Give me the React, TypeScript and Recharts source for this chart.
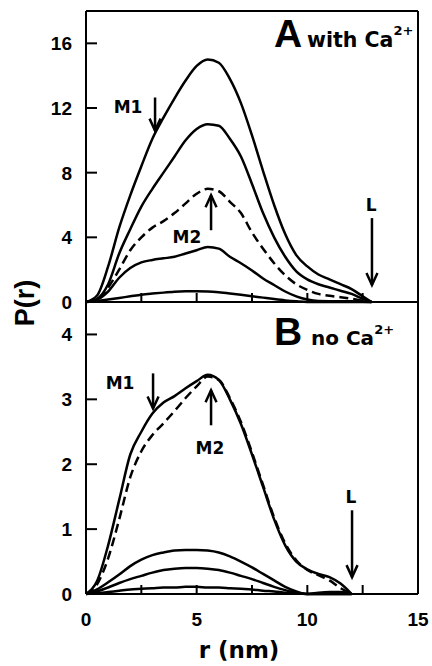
import { LineChart, Line, XAxis, YAxis, ReferenceLine, ReferenceDot } from 'recharts'

// ─── fonts ──────────────────────────────────────────────────────────────────
const SANS = '"Liberation Sans", Arial, sans-serif'
const WIDE = '"DejaVu Sans", Verdana, sans-serif'

// ─── panel A: with Ca2+ ─────────────────────────────────────────────────────
const rWithCa = [0, 0.5, 1, 1.5, 2, 2.5, 3, 3.5, 4, 4.5, 5, 5.5, 6, 6.5, 7, 7.5, 8, 8.5, 9, 9.5, 10, 10.5, 11, 11.5, 12, 12.5, 12.9]
const pA1 = [0, 0.4, 2.2, 4.6, 6.6, 8.4, 10.1, 11.4, 12.6, 13.7, 14.6, 15.0, 14.8, 13.8, 12.3, 10.3, 8.1, 6.0, 4.2, 2.9, 2.2, 1.7, 1.4, 1.1, 0.8, 0.35, 0]
const pA2 = [0, 0.2, 1.1, 3.0, 4.5, 5.9, 7.0, 8.0, 9.0, 10.0, 10.7, 11.0, 10.9, 10.1, 9.0, 7.3, 5.5, 4.0, 2.8, 1.9, 1.4, 1.1, 0.9, 0.7, 0.5, 0.2, 0]
const pA3 = [0, 0.15, 0.9, 2.0, 3.2, 4.0, 4.6, 5.0, 5.5, 6.1, 6.7, 7.0, 6.85, 6.2, 5.5, 4.3, 3.3, 2.4, 1.65, 1.1, 0.75, 0.5, 0.38, 0.3, 0.2, 0.08, 0]
const pA4 = [0, 0.15, 0.65, 1.5, 2.1, 2.45, 2.6, 2.7, 2.8, 3.0, 3.2, 3.4, 3.3, 2.8, 2.4, 1.95, 1.45, 1.05, 0.65, 0.35, 0.15, 0.06, 0.05, 0.05, 0.04, 0.02, 0]
const pA5 = [0, 0.06, 0.15, 0.25, 0.35, 0.45, 0.52, 0.58, 0.63, 0.66, 0.67, 0.65, 0.6, 0.53, 0.45, 0.36, 0.27, 0.18, 0.1, 0.04, 0, 0, 0, 0, 0, 0, 0]

// ─── panel B: no Ca2+ ───────────────────────────────────────────────────────
const rNoCa = [0, 0.5, 1, 1.5, 2, 2.5, 3, 3.5, 4, 4.5, 5, 5.5, 6, 6.5, 7, 7.5, 8, 8.5, 9, 9.5, 10, 10.5, 11, 11.5, 12]
const pB1 = [0, 0.2, 0.75, 1.45, 2.15, 2.5, 2.78, 2.95, 3.05, 3.17, 3.28, 3.38, 3.3, 3.0, 2.62, 2.15, 1.65, 1.15, 0.75, 0.5, 0.38, 0.31, 0.26, 0.16, 0]
const pB2 = [0, 0.15, 0.55, 1.15, 1.8, 2.2, 2.45, 2.63, 2.82, 3.02, 3.2, 3.35, 3.3, 3.02, 2.65, 2.18, 1.68, 1.18, 0.78, 0.52, 0.37, 0.29, 0.21, 0.09, 0]
const pB3 = [0, 0.07, 0.18, 0.3, 0.43, 0.53, 0.6, 0.64, 0.67, 0.68, 0.68, 0.67, 0.64, 0.58, 0.5, 0.41, 0.31, 0.21, 0.11, 0.04, 0, 0, 0, 0, 0]
const pB4 = [0, 0.04, 0.1, 0.17, 0.23, 0.28, 0.33, 0.37, 0.39, 0.4, 0.4, 0.39, 0.37, 0.33, 0.28, 0.23, 0.17, 0.11, 0.06, 0.02, 0, 0, 0, 0, 0]
const pB5 = [0, 0.01, 0.03, 0.05, 0.07, 0.08, 0.09, 0.1, 0.1, 0.11, 0.11, 0.1, 0.1, 0.09, 0.08, 0.07, 0.05, 0.04, 0.02, 0.01, 0, 0.02, 0.03, 0.03, 0]

// ─── axes ───────────────────────────────────────────────────────────────────
const xTicks = [0, 2.5, 5, 7.5, 10, 12.5, 15]
const yTicksA = [0, 4, 8, 12, 16]
const yTicksB = [0, 1, 2, 3, 4]

// arrows: shaft from `from` to `to` at r = x, text centred at (tx, ty)
interface Marker { label: string; x: number; from: number; to: number; tx: number; ty: number }

const markersA: Marker[] = [
  { label: 'M1', x: 3.12, from: 12.65, to: 10.6, tx: 1.9, ty: 12.1 },
  { label: 'M2', x: 5.65, from: 4.44, to: 6.6, tx: 4.56, ty: 4.0 },
  { label: 'L', x: 12.92, from: 5.19, to: 1.05, tx: 12.88, ty: 6.0 },
]
const markersB: Marker[] = [
  { label: 'M1', x: 3.03, from: 3.4, to: 2.86, tx: 1.54, ty: 3.25 },
  { label: 'M2', x: 5.65, from: 2.6, to: 3.14, tx: 5.6, ty: 2.25 },
  { label: 'L', x: 12.02, from: 1.29, to: 0.26, tx: 11.97, ty: 1.49 },
]

const dataA = rWithCa.map((r, i) => ({ r, p1: pA1[i], p2: pA2[i], p3: pA3[i], p4: pA4[i], p5: pA5[i] }))
const dataB = rNoCa.map((r, i) => ({ r, p1: pB1[i], p2: pB2[i], p3: pB3[i], p4: pB4[i], p5: pB5[i] }))

const W = 432
const PLOT_LEFT = 86
const PLOT_RIGHT = 14

// x ticks point up into the plot; labels only on multiples of 5
function makeXTick(withLabels: boolean) {
  return (props: any) => {
    const { x, y, payload } = props
    const v = payload.value as number
    return (
      <g>
        <line x1={x} y1={y} x2={x} y2={y - 9} stroke="#000" strokeWidth={2} />
        {withLabels && v % 5 === 0 && (
          <text x={x} y={y + 32} textAnchor="middle" fontFamily={SANS} fontWeight={700} fontSize={19} fill="#000">
            {v}
          </text>
        )}
      </g>
    )
  }
}

// y ticks point right into the plot
function YTick(props: any) {
  const { x, y, payload } = props
  return (
    <g>
      <line x1={x} y1={y} x2={x + 11} y2={y} stroke="#000" strokeWidth={2} />
      <text x={x - 14} y={y} dy="0.36em" textAnchor="end" fontFamily={SANS} fontWeight={700} fontSize={19} fill="#000">
        {payload.value}
      </text>
    </g>
  )
}

function Arrow(props: any) {
  const { x1, y1, x2, y2 } = props
  const dir = y2 > y1 ? 1 : -1
  return (
    <g stroke="#000" strokeWidth={2.5} fill="none">
      <line x1={x1} y1={y1} x2={x2} y2={y2} />
      <polyline points={`${x2 - 5.5},${y2 - 12 * dir} ${x2},${y2} ${x2 + 5.5},${y2 - 12 * dir}`} />
    </g>
  )
}

function renderMarkers(markers: Marker[]) {
  return markers.flatMap((m) => [
    <ReferenceLine
      key={`a-${m.label}`}
      segment={[{ x: m.x, y: m.from }, { x: m.x, y: m.to }]}
      shape={Arrow}
    />,
    <ReferenceDot
      key={`t-${m.label}`}
      x={m.tx}
      y={m.ty}
      r={0}
      shape={(p: any) => (
        <text x={p.cx} y={p.cy} dy="0.36em" textAnchor="middle" fontFamily={WIDE} fontWeight={700} fontSize={17} fill="#000">
          {m.label}
        </text>
      )}
    />,
  ])
}

// five P(r) curves; `dashed` names the one drawn with a dashed stroke
function curves(dashed: string) {
  return ['p1', 'p2', 'p3', 'p4', 'p5'].map((key) => (
    <Line
      key={key}
      dataKey={key}
      type="monotone"
      stroke="#000"
      strokeWidth={2.5}
      strokeDasharray={key === dashed ? '9 5' : undefined}
      dot={false}
      isAnimationActive={false}
    />
  ))
}

export default function App() {
  return (
    <div style={{ position: 'absolute', left: 0, top: 0, width: W, height: 666, background: '#fff' }}>
      {/* A: with Ca2+ */}
      <div style={{ position: 'absolute', left: 0, top: 0 }}>
        <LineChart width={W} height={312} data={dataA} margin={{ top: 11, right: PLOT_RIGHT, bottom: 0, left: 0 }}>
          <XAxis
            dataKey="r"
            type="number"
            domain={[0, 15]}
            ticks={xTicks}
            interval={0}
            height={10}
            tickSize={0}
            tickMargin={0}
            tick={makeXTick(false)}
            axisLine={{ stroke: '#000', strokeWidth: 2 }}
            tickLine={false}
          />
          <YAxis
            type="number"
            domain={[0, 18]}
            ticks={yTicksA}
            interval={0}
            width={PLOT_LEFT}
            tickSize={0}
            tickMargin={0}
            tick={YTick}
            axisLine={{ stroke: '#000', strokeWidth: 2 }}
            tickLine={false}
          />
          <ReferenceLine y={18} stroke="#000" strokeWidth={2} />
          <ReferenceLine x={15} stroke="#000" strokeWidth={2} />
          {curves('p3')}
          {renderMarkers(markersA)}
        </LineChart>
      </div>

      {/* B: no Ca2+ */}
      <div style={{ position: 'absolute', left: 0, top: 302 }}>
        <LineChart width={W} height={364} data={dataB} margin={{ top: 0, right: PLOT_RIGHT, bottom: 0, left: 0 }}>
          <XAxis
            dataKey="r"
            type="number"
            domain={[0, 15]}
            ticks={xTicks}
            interval={0}
            height={72}
            tickSize={0}
            tickMargin={0}
            tick={makeXTick(true)}
            axisLine={{ stroke: '#000', strokeWidth: 2 }}
            tickLine={false}
          />
          <YAxis
            type="number"
            domain={[0, 4.5]}
            ticks={yTicksB}
            interval={0}
            width={PLOT_LEFT}
            tickSize={0}
            tickMargin={0}
            tick={YTick}
            axisLine={{ stroke: '#000', strokeWidth: 2 }}
            tickLine={false}
          />
          <ReferenceLine y={4.5} stroke="#000" strokeWidth={2} />
          <ReferenceLine x={15} stroke="#000" strokeWidth={2} />
          {curves('p2')}
          {renderMarkers(markersB)}
        </LineChart>
      </div>

      {/* panel titles and shared axis titles */}
      <svg width={W} height={666} style={{ position: 'absolute', left: 0, top: 0, pointerEvents: 'none' }}>
        <text y={47} fill="#000" fontWeight={700}>
          <tspan x={274} fontFamily={SANS} fontSize={39}>A</tspan>
          <tspan x={307} fontFamily={WIDE} fontSize={20.5}>with Ca</tspan>
          <tspan dy={-12} fontFamily={WIDE} fontSize={13}>2+</tspan>
        </text>
        <text y={345} fill="#000" fontWeight={700}>
          <tspan x={274} fontFamily={SANS} fontSize={39}>B</tspan>
          <tspan x={311} fontFamily={WIDE} fontSize={20}>no Ca</tspan>
          <tspan dy={-11} fontFamily={WIDE} fontSize={13}>2+</tspan>
        </text>
        <text
          transform="translate(34 303) rotate(-90)"
          textAnchor="middle"
          fontFamily={SANS}
          fontWeight={700}
          fontSize={27}
          fill="#000"
        >
          P(r)
        </text>
        <text x={239} y={658} textAnchor="middle" fontFamily={WIDE} fontWeight={700} fontSize={23} fill="#000">
          r (nm)
        </text>
      </svg>
    </div>
  )
}
